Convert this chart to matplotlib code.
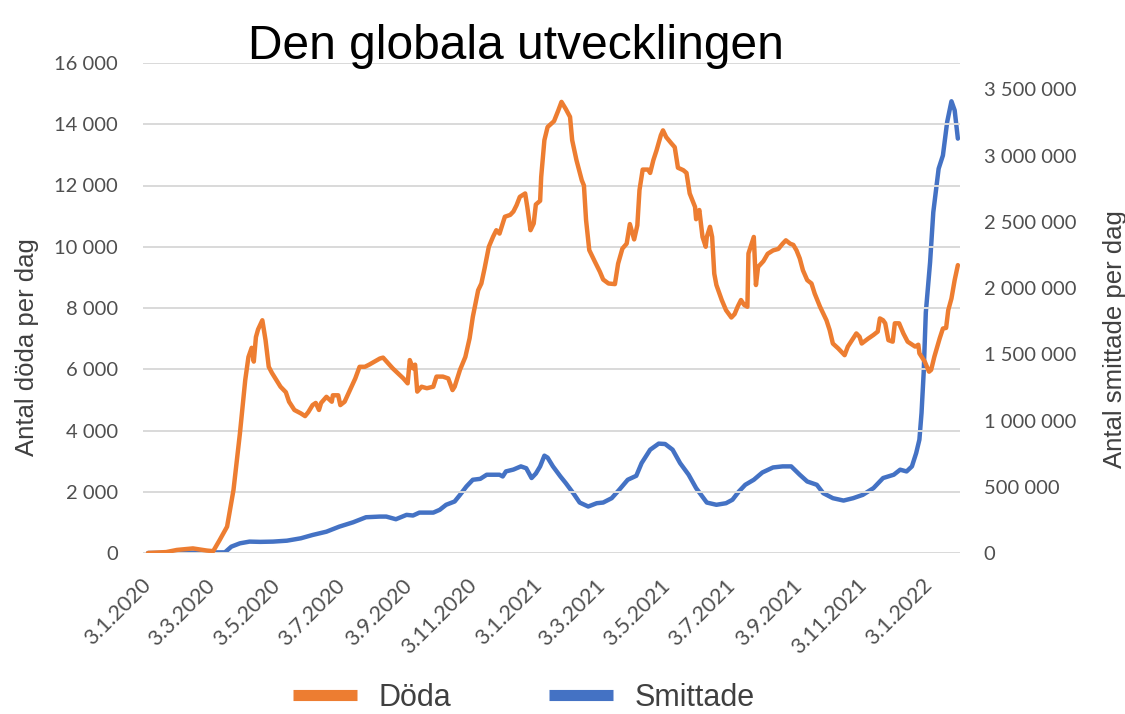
import matplotlib
matplotlib.use("Agg")
import matplotlib.pyplot as plt
from matplotlib.ticker import FuncFormatter, MultipleLocator
from matplotlib.lines import Line2D
import pandas as pd

title = "Den globala utvecklingen"
left_label = "Antal döda per dag"
right_label = "Antal smittade per dag"
series_names = ["Döda", "Smittade"]

doda_dates = [
    "2020-01-03", "2020-01-20", "2020-01-30", "2020-02-14", "2020-02-27", "2020-03-04",
    "2020-03-10", "2020-03-17", "2020-03-23", "2020-03-29", "2020-04-03", "2020-04-06",
    "2020-04-09", "2020-04-11", "2020-04-13", "2020-04-15", "2020-04-19", "2020-04-22",
    "2020-04-25", "2020-04-28", "2020-05-06", "2020-05-11", "2020-05-14", "2020-05-19",
    "2020-05-25", "2020-05-29", "2020-06-01", "2020-06-05", "2020-06-08", "2020-06-11",
    "2020-06-13", "2020-06-18", "2020-06-23", "2020-06-24", "2020-06-29", "2020-07-01",
    "2020-07-05", "2020-07-10", "2020-07-15", "2020-07-19", "2020-07-24", "2020-07-28",
    "2020-08-07", "2020-08-10", "2020-08-19", "2020-08-29", "2020-09-02", "2020-09-04",
    "2020-09-07", "2020-09-09", "2020-09-11", "2020-09-15", "2020-09-20", "2020-09-26",
    "2020-09-29", "2020-10-05", "2020-10-10", "2020-10-14", "2020-10-16", "2020-10-21",
    "2020-10-26", "2020-10-30", "2020-11-02", "2020-11-07", "2020-11-10", "2020-11-13",
    "2020-11-17", "2020-11-21", "2020-11-24", "2020-11-27", "2020-12-02", "2020-12-07",
    "2020-12-10", "2020-12-13", "2020-12-16", "2020-12-21", "2020-12-23", "2020-12-26",
    "2020-12-29", "2020-12-31", "2021-01-04", "2021-01-05", "2021-01-08", "2021-01-11",
    "2021-01-17", "2021-01-21", "2021-01-24", "2021-01-28", "2021-02-01", "2021-02-03",
    "2021-02-07", "2021-02-12", "2021-02-14", "2021-02-16", "2021-02-19", "2021-02-24",
    "2021-03-01", "2021-03-04", "2021-03-09", "2021-03-15", "2021-03-18", "2021-03-22",
    "2021-03-26", "2021-03-29", "2021-04-02", "2021-04-05", "2021-04-07", "2021-04-10",
    "2021-04-15", "2021-04-17", "2021-04-20", "2021-04-23", "2021-04-27", "2021-04-29",
    "2021-05-02", "2021-05-07", "2021-05-10", "2021-05-13", "2021-05-18", "2021-05-21",
    "2021-05-24", "2021-05-29", "2021-05-30", "2021-06-02", "2021-06-05", "2021-06-08",
    "2021-06-09", "2021-06-12", "2021-06-14", "2021-06-16", "2021-06-18", "2021-06-23",
    "2021-06-27", "2021-07-02", "2021-07-05", "2021-07-08", "2021-07-11", "2021-07-14",
    "2021-07-17", "2021-07-18", "2021-07-21", "2021-07-23", "2021-07-25", "2021-07-27",
    "2021-08-01", "2021-08-05", "2021-08-10", "2021-08-15", "2021-08-19", "2021-08-22",
    "2021-08-26", "2021-08-29", "2021-09-01", "2021-09-04", "2021-09-07", "2021-09-11",
    "2021-09-15", "2021-09-18", "2021-09-23", "2021-09-26", "2021-09-29", "2021-10-02",
    "2021-10-05", "2021-10-10", "2021-10-13", "2021-10-16", "2021-10-19", "2021-10-24",
    "2021-10-27", "2021-10-30", "2021-11-01", "2021-11-07", "2021-11-12", "2021-11-16",
    "2021-11-18", "2021-11-21", "2021-11-23", "2021-11-26", "2021-11-30", "2021-12-02",
    "2021-12-06", "2021-12-10", "2021-12-14", "2021-12-21", "2021-12-24", "2021-12-25",
    "2021-12-30", "2022-01-03", "2022-01-05", "2022-01-08", "2022-01-13", "2022-01-16",
    "2022-01-19", "2022-01-21", "2022-01-24", "2022-01-27", "2022-01-30",
]
doda_values = [
    0, 30, 100, 150, 80, 60,
    420, 860, 2060, 3900, 5650, 6400,
    6700, 6250, 7050, 7300, 7600, 6950,
    6080, 5880, 5430, 5250, 4940, 4670,
    4560, 4470, 4600, 4830, 4900, 4670,
    4900, 5100, 4940, 5150, 5150, 4830,
    4940, 5320, 5700, 6080, 6080, 6150,
    6350, 6380, 6030, 5700, 5540, 6300,
    6030, 6150, 5270, 5430, 5380, 5430,
    5760, 5760, 5700, 5320, 5430, 5980,
    6400, 7010, 7710, 8580, 8800, 9290,
    10000, 10330, 10540, 10430, 10980, 11040,
    11150, 11360, 11630, 11740, 11300, 10540,
    10760, 11380, 11500, 12280, 13480, 13910,
    14100, 14450, 14730, 14500, 14240, 13480,
    12830, 12170, 12000, 10870, 9890, 9530,
    9180, 8930, 8800, 8780, 9450, 9940,
    10100, 10740, 10240, 10700, 11850, 12520,
    12520, 12410, 12830, 13150, 13640, 13800,
    13580, 13370, 13250, 12580, 12500, 12410,
    11740, 11300, 10900, 11200, 10320, 10000,
    10320, 10650, 10320, 9120, 8750, 8260,
    7930, 7690, 7800, 8050, 8260, 8100,
    8040, 9780, 10100, 10320, 8750, 9340,
    9530, 9770, 9880, 9930, 10100, 10210,
    10100, 10060, 9880, 9620, 9230, 8910,
    8800, 8470, 8040, 7820, 7600, 7280,
    6840, 6680, 6570, 6460, 6740, 7010,
    7170, 7060, 6840, 7000, 7120, 7230,
    7660, 7600, 7500, 6950, 6900, 7500,
    7500, 7170, 6900, 6740, 6800, 6520,
    6250, 5920, 5980, 6410, 7010, 7330,
    7350, 7930, 8310, 8910, 9400,
]

smittade_dates = [
    "2020-01-03", "2020-03-15", "2020-03-21", "2020-03-29", "2020-04-07", "2020-04-17",
    "2020-04-29", "2020-05-12", "2020-05-25", "2020-06-05", "2020-06-18", "2020-06-30",
    "2020-07-13", "2020-07-25", "2020-08-07", "2020-08-13", "2020-08-22", "2020-09-01",
    "2020-09-07", "2020-09-13", "2020-09-26", "2020-10-02", "2020-10-08", "2020-10-16",
    "2020-10-21", "2020-10-27", "2020-11-02", "2020-11-09", "2020-11-15", "2020-11-27",
    "2020-11-30", "2020-12-03", "2020-12-10", "2020-12-17", "2020-12-22", "2020-12-27",
    "2020-12-31", "2021-01-04", "2021-01-08", "2021-01-11", "2021-01-16", "2021-01-23",
    "2021-01-28", "2021-02-04", "2021-02-10", "2021-02-18", "2021-02-26", "2021-03-04",
    "2021-03-12", "2021-03-19", "2021-03-27", "2021-04-04", "2021-04-09", "2021-04-17",
    "2021-04-25", "2021-05-01", "2021-05-08", "2021-05-15", "2021-05-23", "2021-05-30",
    "2021-06-09", "2021-06-18", "2021-06-27", "2021-07-03", "2021-07-09", "2021-07-15",
    "2021-07-23", "2021-07-31", "2021-08-10", "2021-08-19", "2021-08-27", "2021-09-04",
    "2021-09-11", "2021-09-20", "2021-09-26", "2021-10-05", "2021-10-15", "2021-10-24",
    "2021-11-02", "2021-11-12", "2021-11-21", "2021-12-01", "2021-12-07", "2021-12-13",
    "2021-12-18", "2021-12-22", "2021-12-25", "2021-12-27", "2021-12-29", "2021-12-31",
    "2022-01-04", "2022-01-07", "2022-01-12", "2022-01-16", "2022-01-20", "2022-01-24",
    "2022-01-27", "2022-01-30",
]
smittade_values = [
    0, 5000, 48000, 73000, 86000, 84000,
    86000, 93000, 111000, 136000, 161000, 199000,
    232000, 270000, 275000, 275000, 255000, 288000,
    283000, 305000, 305000, 326000, 364000, 389000,
    439000, 502000, 553000, 560000, 591000, 591000,
    578000, 616000, 630000, 654000, 640000, 566000,
    600000, 654000, 735000, 720000, 654000, 578000,
    528000, 452000, 381000, 351000, 376000, 381000,
    414000, 477000, 553000, 583000, 679000, 780000,
    826000, 823000, 780000, 679000, 591000, 490000,
    381000, 364000, 376000, 402000, 464000, 515000,
    553000, 608000, 646000, 654000, 654000, 591000,
    540000, 515000, 452000, 414000, 396000, 414000,
    439000, 490000, 566000, 591000, 629000, 616000,
    654000, 755000, 856000, 1058000, 1361000, 1816000,
    2195000, 2573000, 2902000, 3002000, 3255000, 3411000,
    3343000, 3129000,
]

tick_dates = ["2020-01-03", "2020-03-03", "2020-05-03", "2020-07-03", "2020-09-03",
              "2020-11-03", "2021-01-03", "2021-03-03", "2021-05-03", "2021-07-03",
              "2021-09-03", "2021-11-03", "2022-01-03"]
tick_labels = ["3.1.2020", "3.3.2020", "3.5.2020", "3.7.2020", "3.9.2020", "3.11.2020",
               "3.1.2021", "3.3.2021", "3.5.2021", "3.7.2021", "3.9.2021", "3.11.2021",
               "3.1.2022"]

ORANGE = "#ED7D31"
BLUE = "#4472C4"
GRID = "#d9d9d9"
TICK = "#4f4f4f"
LABEL = "#404040"

W, H = 1125, 714
fig = plt.figure(figsize=(W / 100, H / 100), dpi=100)
fig.patch.set_facecolor("white")
ax = fig.add_axes([143 / W, 1 - 553 / H, (960 - 143) / W, (553 - 63) / H])
ax2 = ax.twinx()

d_dates = pd.to_datetime(doda_dates)
s_dates = pd.to_datetime(smittade_dates)

ax2.plot(s_dates, smittade_values, color=BLUE, lw=3.2, solid_capstyle="round",
         solid_joinstyle="round", zorder=3)
ax.plot(d_dates, doda_values, color=ORANGE, lw=3.2, solid_capstyle="round",
        solid_joinstyle="round", zorder=3)
ax.set_zorder(ax2.get_zorder() + 1)
ax.patch.set_visible(False)

start = pd.Timestamp("2020-01-03")
ax.set_xlim(start - pd.Timedelta(days=4.7), start + pd.Timedelta(days=760))
ax.set_ylim(0, 16000)
ax2.set_ylim(0, 3700000)
ax.yaxis.set_major_locator(MultipleLocator(2000))
ax2.yaxis.set_major_locator(MultipleLocator(500000))

fmt = FuncFormatter(lambda v, p: f"{int(round(v)):,}".replace(",", " "))
ax.yaxis.set_major_formatter(fmt)
ax2.yaxis.set_major_formatter(fmt)

ax.grid(axis="y", color=GRID, lw=1.4)
ax.set_axisbelow(True)
for a in (ax, ax2):
    for s in a.spines.values():
        s.set_visible(False)
    a.tick_params(length=0)

ax.set_xticks(pd.to_datetime(tick_dates))
ax.set_xticklabels(tick_labels)
tick_family = ["Lato", "DejaVu Sans"]
ax.tick_params(axis="x", colors=TICK, pad=21)
for lbl in ax.get_xticklabels():
    lbl.set_rotation(45)
    lbl.set_ha("right")
    lbl.set_va("center")
    lbl.set_rotation_mode("anchor")
    lbl.set_fontfamily(tick_family)
    lbl.set_fontsize(15.5)
ax.tick_params(axis="y", colors=TICK, pad=18)
ax2.tick_params(axis="y", colors=TICK, pad=17)
for lbl in ax.get_yticklabels() + ax2.get_yticklabels():
    lbl.set_fontfamily(tick_family)
    lbl.set_fontsize(14.5)

txt_font = ["Liberation Sans", "DejaVu Sans"]
fig.text(516 / W, 1 - 59 / H, title, ha="center", va="baseline",
         fontsize=34.5, family=txt_font, color="black")
fig.text(27 / W, 1 - 347 / H, left_label, rotation=90, ha="center", va="center",
         fontsize=18.5, family=txt_font, color=LABEL)
fig.text(1115 / W, 1 - 339 / H, right_label, rotation=90, ha="center", va="center",
         fontsize=18.5, family=txt_font, color=LABEL)

handles = [Line2D([], [], color=ORANGE, lw=8, solid_capstyle="butt"),
           Line2D([], [], color=BLUE, lw=8, solid_capstyle="butt")]
fig.legend(handles, series_names, loc="center", bbox_to_anchor=(524 / W, 1 - 698 / H),
           ncol=2, frameon=False, prop={"family": txt_font, "size": 22},
           labelcolor=LABEL, handlelength=2.1, handletextpad=0.7, columnspacing=3.2,
           borderpad=0, borderaxespad=0)

fig.savefig("out.png", dpi=100, facecolor="white")
